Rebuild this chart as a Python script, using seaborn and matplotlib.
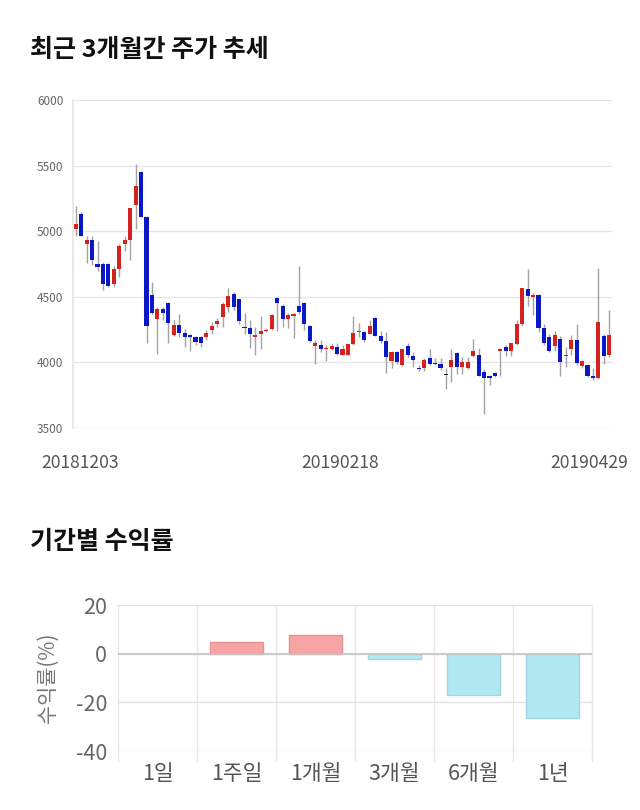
import matplotlib
matplotlib.use('Agg')
import matplotlib.pyplot as plt
import matplotlib.transforms as mtransforms
from matplotlib.lines import Line2D
import numpy as np
import pandas as pd
import seaborn as sns

# ---------------- data ----------------
date_labels = ['20181203', '20190218', '20190429']
date_label_idx = [0, 49, 98]

opens = [5020, 5130, 4900, 4935, 4750, 4750, 4750, 4600, 4710, 4900,
         4935, 5200, 5450, 5110, 4510, 4330, 4410, 4450, 4210, 4285,
         4225, 4210, 4195, 4195, 4195, 4245, 4295, 4345, 4425, 4525,
         4480, 4270, 4260, 4195, 4215, 4240, 4255, 4490, 4430, 4330,
         4350, 4430, 4455, 4280, 4125, 4135, 4100, 4105, 4120, 4060,
         4060, 4140, 4228, 4230, 4220, 4340, 4205, 4165, 4010, 4080,
         3980, 4125, 4050, 3960, 3955, 4035, 3995, 3990, 3905, 3965,
         4075, 3965, 3960, 4045, 4060, 3925, 3900, 3920, 4090, 4120,
         4090, 4140, 4295, 4560, 4495, 4515, 4260, 4195, 4125, 4180,
         4045, 4105, 4170, 3975, 3980, 3900, 3880, 4200, 4055]
closes = [5055, 4965, 4930, 4780, 4730, 4600, 4580, 4710, 4890, 4935,
          5175, 5345, 5110, 4280, 4380, 4410, 4375, 4300, 4285, 4225,
          4190, 4195, 4155, 4150, 4225, 4280, 4315, 4445, 4505, 4420,
          4315, 4260, 4215, 4210, 4240, 4245, 4360, 4450, 4330, 4365,
          4370, 4385, 4295, 4165, 4150, 4100, 4110, 4125, 4065, 4100,
          4140, 4225, 4240, 4170, 4280, 4205, 4165, 4040, 4080, 4000,
          4100, 4055, 4020, 3950, 4015, 3990, 3985, 3955, 3905, 4020,
          3965, 4000, 4000, 4090, 3900, 3880, 3880, 3895, 4095, 4090,
          4145, 4295, 4565, 4505, 4515, 4260, 4145, 4090, 4210, 4005,
          4060, 4170, 3995, 4010, 3900, 3880, 4305, 4050, 4210]
highs = [5190, 5150, 4965, 4960, 4925, 4765, 4755, 4735, 4905, 4965,
         5180, 5510, 5460, 5115, 4615, 4420, 4425, 4460, 4320, 4370,
         4255, 4220, 4205, 4200, 4250, 4310, 4335, 4460, 4570, 4535,
         4485, 4380, 4320, 4270, 4350, 4260, 4370, 4500, 4445, 4375,
         4375, 4735, 4460, 4285, 4170, 4170, 4130, 4150, 4150, 4130,
         4145, 4350, 4300, 4240, 4325, 4345, 4240, 4235, 4090, 4090,
         4105, 4145, 4080, 3980, 4030, 4100, 4030, 4030, 3955, 4100,
         4080, 4040, 4040, 4180, 4110, 3950, 3905, 3925, 4100, 4135,
         4150, 4320, 4570, 4710, 4530, 4525, 4295, 4220, 4240, 4200,
         4120, 4210, 4295, 4020, 3990, 3960, 4720, 4215, 4400]
lows = [4960, 4960, 4760, 4740, 4700, 4550, 4575, 4575, 4650, 4850,
        4780, 5020, 5105, 4150, 4370, 4065, 4320, 4150, 4205, 4195,
        4120, 4085, 4130, 4120, 4170, 4220, 4270, 4270, 4385, 4400,
        4295, 4220, 4110, 4060, 4105, 4230, 4245, 4240, 4270, 4260,
        4185, 4370, 4245, 4155, 3985, 4080, 4010, 4095, 4055, 4055,
        4055, 4130, 4195, 4155, 4215, 4200, 4150, 3920, 3960, 3990,
        3975, 4040, 3965, 3935, 3935, 3980, 3980, 3945, 3800, 3850,
        3915, 3915, 3950, 4040, 3895, 3610, 3830, 3890, 3895, 4050,
        4050, 4130, 4280, 4430, 4360, 4235, 4130, 4080, 4090, 3895,
        3965, 4055, 3980, 3955, 3890, 3865, 3875, 3990, 4040]
price_ticks = [3500, 4000, 4500, 5000, 5500, 6000]

periods = ['1일', '1주일', '1개월', '3개월', '6개월', '1년']
returns = [0.0, 4.8, 7.8, -2.1, -17.0, -26.3]
return_ticks = [-40, -20, 0, 20]

# ---------------- style ----------------
sns.set_theme(style='white')
plt.rcParams['font.family'] = ['Noto Sans CJK KR', 'DejaVu Sans']
plt.rcParams['axes.unicode_minus'] = False

RED = '#d4231f'
BLUE = '#0a17c4'
W, H = 640, 810

fig = plt.figure(figsize=(6.4, 8.1), dpi=100)
fig.patch.set_facecolor('white')

# ---------------- candlestick chart ----------------
ax1 = fig.add_axes([73 / W, 1 - 428 / H, (612 - 73) / W, 328 / H])
o = np.array(opens, dtype=float)
c = np.array(closes, dtype=float)
h = np.array(highs, dtype=float)
l = np.array(lows, dtype=float)
x = np.arange(len(o))
cols = np.where(c > o, RED, np.where(c < o, BLUE, '#222222'))
ax1.vlines(x, l, h, color='#a3a3a3', linewidth=1, zorder=2)
ax1.bar(x, np.maximum(np.abs(c - o), 9), bottom=np.minimum(o, c),
        width=0.74, color=cols, linewidth=0, zorder=3)
ax1.set_xlim(-0.5, len(o) - 0.5)
ax1.set_ylim(price_ticks[0], price_ticks[-1])
ax1.set_yticks(price_ticks)
ax1.yaxis.grid(True, color='#e6e6e6', linewidth=1)
ax1.set_axisbelow(True)
for s in ['top', 'right', 'bottom']:
    ax1.spines[s].set_visible(False)
ax1.spines['left'].set_color('#e6e6e6')
ax1.tick_params(axis='y', length=0, pad=7, labelsize=8.5, labelcolor='#666666')
ax1.set_xticks(date_label_idx)
ax1.set_xticklabels(date_labels)
ax1.tick_params(axis='x', length=0, pad=19, labelsize=12.6, labelcolor='#555555')
for lab, dx in zip(ax1.get_xticklabels(), [4, -2, -20]):
    lab.set_transform(lab.get_transform() +
                      mtransforms.ScaledTranslation(dx / 100, 0, fig.dpi_scale_trans))

fig.text(30 / W, 1 - 50 / H, '최근 3개월간 주가 추세', fontsize=18,
         fontweight='bold', color='#111111', ha='left', va='center')

# ---------------- returns bar chart ----------------
ax2 = fig.add_axes([118 / W, 1 - 751 / H, (592 - 118) / W, 146 / H])
df = pd.DataFrame({'period': periods, 'ret': returns})
fills = ['#f7a4a4' if v >= 0 else '#b1e9f3' for v in returns]
edges = ['#e79393' if v > 0 else ('#9fd6e2' if v < 0 else 'none') for v in returns]
sns.barplot(data=df, x='period', y='ret', hue='period', palette=fills,
            legend=False, width=0.68, saturation=1, ax=ax2, zorder=3)
for p, e in zip(ax2.patches, edges):
    p.set_edgecolor(e)
    p.set_linewidth(1)
ax2.set_ylim(return_ticks[0], return_ticks[-1])
ax2.set_yticks(return_ticks)
ax2.set_xlim(-0.5, len(periods) - 0.5)
ax2.yaxis.grid(True, color='#e3e3e3', linewidth=1, zorder=0)
ax2.axhline(0, color='#c4c4c4', linewidth=1.2, zorder=4)
trans = mtransforms.blended_transform_factory(ax2.transData, ax2.transAxes)
for b in np.arange(-0.5, len(periods)):
    ax2.add_line(Line2D([b, b], [-0.07, 1], transform=trans, color='#e6e6e6',
                        linewidth=1, clip_on=False, zorder=1))
for s in ax2.spines.values():
    s.set_visible(False)
ax2.set_xlabel('')
ax2.set_ylabel('수익률(%)', fontsize=15, color='#777777')
ax2.yaxis.set_label_coords(-0.125, 0.5)
ax2.tick_params(axis='y', length=0, pad=8, labelsize=15.5, labelcolor='#666666')
ax2.tick_params(axis='x', length=0, pad=9, labelsize=15.5, labelcolor='#555555')

fig.text(30 / W, 1 - 542 / H, '기간별 수익률', fontsize=18,
         fontweight='bold', color='#111111', ha='left', va='center')

fig.savefig('out.png', dpi=100, facecolor='white')
